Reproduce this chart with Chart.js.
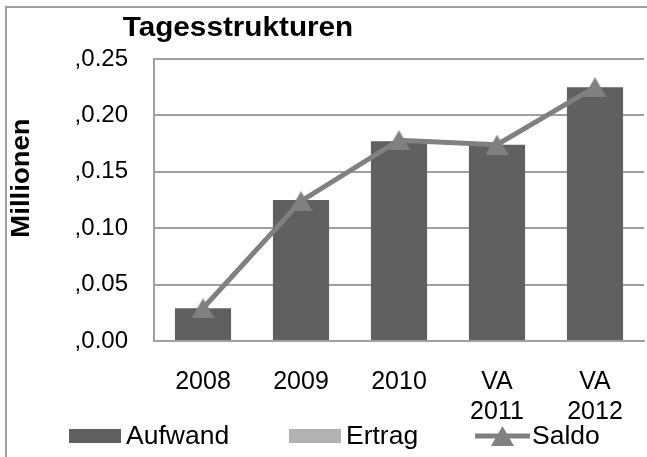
<!DOCTYPE html>
<html>
<head>
<meta charset="utf-8">
<script src="https://cdn.jsdelivr.net/npm/chart.js@4"></script>
<style>
  html, body { margin: 0; padding: 0; background: #fff; }
  .wrap { width: 647px; height: 457px; overflow: hidden; position: relative; }
  canvas { display: block; }
</style>
</head>
<body>
<div class="wrap">
  <canvas id="chart" width="660" height="457"></canvas>
</div>
<script>
const categories = [["2008"], ["2009"], ["2010"], ["VA", "2011"], ["VA", "2012"]]
const aufwand = [0.029, 0.125, 0.177, 0.174, 0.225]
const ertrag = [0, 0, 0, 0, 0]
const saldo = [0.029, 0.124, 0.178, 0.174, 0.225]
const yTicks = [0, 0.05, 0.1, 0.15, 0.2, 0.25]

const FONT = "'Liberation Sans', Arial, sans-serif"
const BAR = "#606060"
const LIGHT = "#b2b2b2"
const LINE = "#808080"
const GRID = "#a0a0a0"

// triangle marker centred on its box, like the office marker
function triangle(w, h, color) {
  const c = document.createElement("canvas")
  c.width = w
  c.height = h
  const ctx = c.getContext("2d")
  ctx.fillStyle = color
  ctx.beginPath()
  ctx.moveTo(w / 2, 0)
  ctx.lineTo(w, h)
  ctx.lineTo(0, h)
  ctx.closePath()
  ctx.fill()
  return c
}
const marker = triangle(23, 20, LINE)

// text in the reference is a bit wider than the font, stretch it a little
function wideText(ctx, text, x, y, sx) {
  ctx.save()
  ctx.translate(x, y)
  ctx.scale(sx, 1)
  ctx.fillText(text, 0, 0)
  ctx.restore()
}

const decorations = {
  id: "decorations",
  beforeDraw(chart) {
    const ctx = chart.ctx
    ctx.save()
    ctx.strokeStyle = GRID
    ctx.lineWidth = 2
    ctx.beginPath()
    ctx.moveTo(6, 470)
    ctx.lineTo(6, 7)
    ctx.lineTo(700, 7)
    ctx.stroke()
    ctx.restore()
  },
  afterDraw(chart) {
    const ctx = chart.ctx
    ctx.save()
    ctx.fillStyle = "#000"
    ctx.textBaseline = "middle"
    ctx.textAlign = "center"
    ctx.font = "bold 27px " + FONT
    wideText(ctx, "Tagesstrukturen", 238, 29, 1.1)

    ctx.save()
    ctx.translate(22, 178)
    ctx.rotate(-Math.PI / 2)
    ctx.font = "bold 26px " + FONT
    wideText(ctx, "Millionen", 0, 0, 1.06)
    ctx.restore()

    // legend
    const y = 436
    ctx.textAlign = "left"
    ctx.font = "25px " + FONT
    ctx.fillStyle = BAR
    ctx.fillRect(69, y - 7, 52, 14)
    ctx.fillStyle = LIGHT
    ctx.fillRect(289, y - 7, 52, 14)
    ctx.strokeStyle = LINE
    ctx.lineWidth = 5
    ctx.beginPath()
    ctx.moveTo(475, y)
    ctx.lineTo(530, y)
    ctx.stroke()
    ctx.drawImage(marker, 502.5 - 11.5, y - 10)
    ctx.fillStyle = "#000"
    wideText(ctx, "Aufwand", 126, y + 1, 1.06)
    wideText(ctx, "Ertrag", 346, y + 1, 1.06)
    wideText(ctx, "Saldo", 532, y + 1, 1.06)
    ctx.restore()
  }
}

new Chart(document.getElementById("chart"), {
  data: {
    labels: categories,
    datasets: [
      {
        type: "line",
        label: "Saldo",
        data: saldo,
        borderColor: LINE,
        backgroundColor: LINE,
        borderWidth: 5,
        pointStyle: marker,
        pointRadius: 11,
        pointHoverRadius: 11,
        tension: 0,
        order: 0
      },
      {
        type: "bar",
        label: "Aufwand",
        data: aufwand,
        backgroundColor: BAR,
        grouped: false,
        categoryPercentage: 0.573,
        barPercentage: 1,
        order: 1
      },
      {
        type: "bar",
        label: "Ertrag",
        data: ertrag,
        backgroundColor: LIGHT,
        grouped: false,
        categoryPercentage: 0.573,
        barPercentage: 1,
        order: 2
      }
    ]
  },
  options: {
    responsive: false,
    animation: false,
    layout: { padding: { left: 0, top: 59, right: 8.5, bottom: 0 } },
    plugins: {
      legend: { display: false },
      title: { display: false },
      tooltip: { enabled: false }
    },
    scales: {
      x: {
        grid: { display: false, drawTicks: false },
        border: { color: GRID, width: 2 },
        ticks: {
          color: "#000",
          font: { family: FONT, size: 25, lineHeight: 1.2 },
          padding: 26,
          maxRotation: 0,
          autoSkip: false
        },
        afterFit(scale) { scale.height = 116 }
      },
      y: {
        min: 0,
        max: 0.25,
        afterBuildTicks(scale) { scale.ticks = yTicks.map(v => ({ value: v })) },
        grid: { color: GRID, lineWidth: 2, drawTicks: false },
        border: { color: GRID, width: 2 },
        ticks: {
          color: "#000",
          font: { family: FONT, size: 24 },
          padding: 26,
          callback: v => "," + v.toFixed(2)
        },
        afterFit(scale) { scale.width = 154 }
      }
    }
  },
  plugins: [decorations]
})
</script>
</body>
</html>
